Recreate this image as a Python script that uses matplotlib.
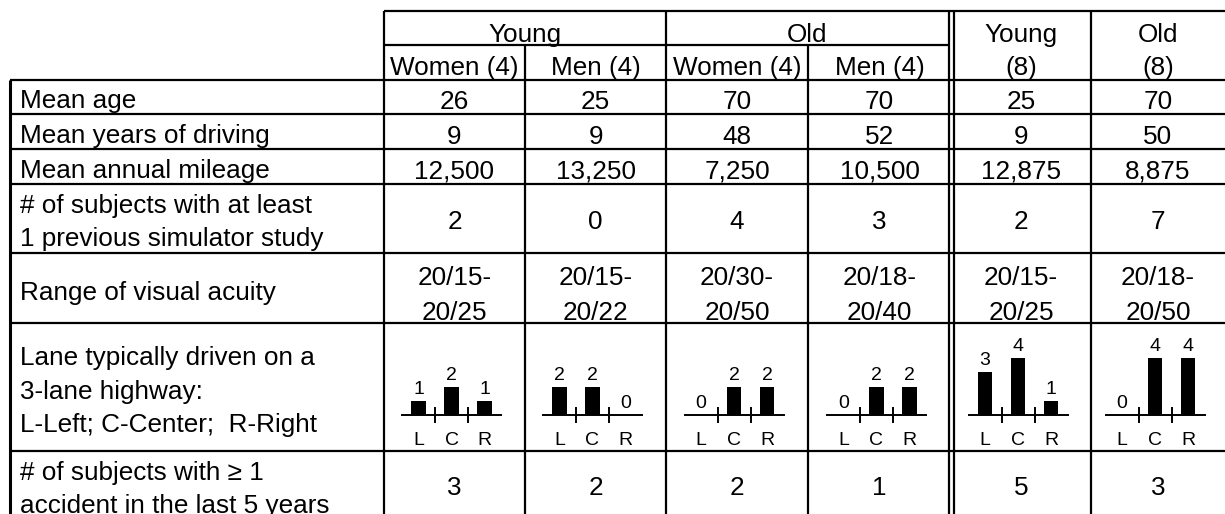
import matplotlib.pyplot as plt

plt.rcParams['font.family'] = ['Liberation Sans', 'DejaVu Sans']

# columns
groups = ['Young', 'Old']
sub_cols = ['Women (4)', 'Men (4)', 'Women (4)', 'Men (4)']
total_cols = ['Young', 'Old']
total_n = ['(8)', '(8)']

# table rows
mean_age = ['26', '25', '70', '70', '25', '70']
years_driving = ['9', '9', '48', '52', '9', '50']
mileage = ['12,500', '13,250', '7,250', '10,500', '12,875', '8,875']
prev_sim = ['2', '0', '4', '3', '2', '7']
acuity_lo = ['20/15-', '20/15-', '20/30-', '20/18-', '20/15-', '20/18-']
acuity_hi = ['20/25', '20/22', '20/50', '20/40', '20/25', '20/50']
accidents = ['3', '2', '2', '1', '5', '3']

lanes = ['L', 'C', 'R']
lane_counts = [
    [1, 2, 1],
    [2, 2, 0],
    [0, 2, 2],
    [0, 2, 2],
    [3, 4, 1],
    [0, 4, 4],
]

W, H = 1225, 514
fig = plt.figure(figsize=(W / 100, H / 100), dpi=100)
ax = fig.add_axes([0, 0, 1, 1])
ax.set_xlim(0, W)
ax.set_ylim(H, 0)
ax.axis('off')

lw = 1.6
fs = 18.8
col_edges = [384, 525, 666, 808, 951, 1091, W]
centers = [(col_edges[i] + col_edges[i + 1]) / 2 for i in range(6)]
row_lines = [80, 114, 149, 184, 253, 323, 451]

# grid lines
ax.hlines(11, 384, W, color='black', lw=lw)
ax.hlines(45, 384, 949, color='black', lw=lw)
for y in row_lines:
    ax.hlines(y, 10, W, color='black', lw=lw)
ax.vlines(10, 80, H, color='black', lw=2.2)
for x in [384, 666, 1091]:
    ax.vlines(x, 11, H, color='black', lw=lw)
for x in [525, 808]:
    ax.vlines(x, 45, H, color='black', lw=lw)
ax.vlines([949, 954], 11, H, color='black', lw=lw)

# header
ax.text(525, 42, groups[0], ha='center', va='baseline', fontsize=fs)
ax.text(807, 42, groups[1], ha='center', va='baseline', fontsize=fs)
for i, s in enumerate(sub_cols):
    ax.text(centers[i], 75, s, ha='center', va='baseline', fontsize=fs)
for i in range(2):
    ax.text(centers[4 + i], 42, total_cols[i], ha='center', va='baseline', fontsize=fs)
    ax.text(centers[4 + i], 75, total_n[i], ha='center', va='baseline', fontsize=fs)

# row labels
labels = [
    (['Mean age'], [108]),
    (['Mean years of driving'], [143]),
    (['Mean annual mileage'], [178]),
    (['# of subjects with at least', '1 previous simulator study'], [213, 246]),
    (['Range of visual acuity'], [300]),
    (['Lane typically driven on a', '3-lane highway:', 'L-Left; C-Center;  R-Right'], [365, 399, 432]),
    (['# of subjects with \u2265 1', 'accident in the last 5 years'], [480, 513]),
]
for lines, ys in labels:
    for s, y in zip(lines, ys):
        ax.text(20, y, s, ha='left', va='baseline', fontsize=fs)

# values
for i in range(6):
    x = centers[i]
    ax.text(x, 109, mean_age[i], ha='center', va='baseline', fontsize=fs)
    ax.text(x, 144, years_driving[i], ha='center', va='baseline', fontsize=fs)
    ax.text(x, 179, mileage[i], ha='center', va='baseline', fontsize=fs)
    ax.text(x, 229, prev_sim[i], ha='center', va='baseline', fontsize=fs)
    ax.text(x, 285, acuity_lo[i], ha='center', va='baseline', fontsize=fs)
    ax.text(x, 320, acuity_hi[i], ha='center', va='baseline', fontsize=fs)
    ax.text(x, 495, accidents[i], ha='center', va='baseline', fontsize=fs)

# mini bar charts for lane preference
base_y, top_y = 415, 358
for i, counts in enumerate(lane_counts):
    left = centers[i] - 3 - 49.5
    bax = fig.add_axes([left / W, 1 - base_y / H, 99 / W, (base_y - top_y) / H])
    bax.patch.set_visible(False)
    pos = range(len(lanes))
    bax.bar(pos, counts, width=0.45, color='black')
    for p, v in zip(pos, counts):
        bax.annotate(str(v), (p, v), xytext=(0, 2), textcoords='offset points',
                     ha='center', va='bottom', fontsize=14, annotation_clip=False)
    bax.set_xlim(-0.5, 2.5)
    bax.set_ylim(0, 4)
    for side in ['top', 'left', 'right']:
        bax.spines[side].set_visible(False)
    bax.spines['bottom'].set_linewidth(1.4)
    bax.set_yticks([])
    bax.set_xticks([0.5, 1.5])
    bax.set_xticklabels([])
    bax.tick_params(axis='x', which='major', direction='inout', length=11.5, width=1.4)
    bax.set_xticks(list(pos), minor=True)
    bax.set_xticklabels(lanes, minor=True, fontsize=14)
    bax.tick_params(axis='x', which='minor', length=0, pad=12)

fig.savefig('out.png', dpi=100)
